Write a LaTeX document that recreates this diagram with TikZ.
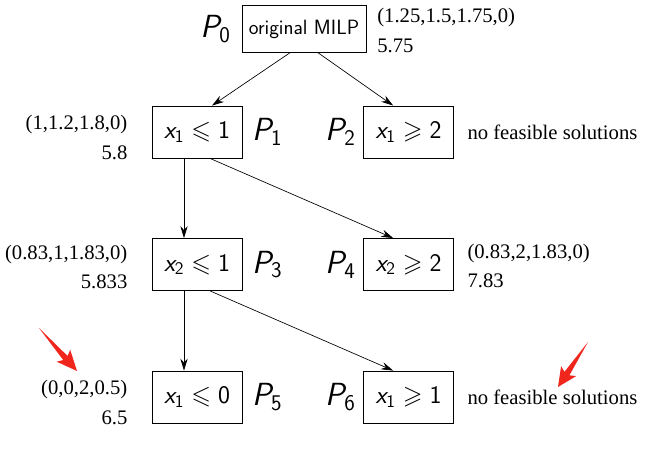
\RequirePackage{fix-cm}
\documentclass[tikz,border=0pt]{standalone}
\usepackage{amsmath}
\usepackage{amssymb}
\usepackage{fontspec}
\newfontfamily\annfont{Liberation Serif}
\usetikzlibrary{arrows.meta}
\usetikzlibrary{positioning}
\definecolor{markred}{RGB}{240,38,28}
\newcommand{\sv}[1]{\textsf{\itshape #1}}
\newcommand{\sn}[1]{\textsf{#1}}

\begin{document}
\begin{tikzpicture}[x=0.75pt, y=-0.75pt,
    box/.style={draw, line width=0.6pt, minimum width=67.5pt, minimum height=39pt, inner sep=2pt,
      font=\sffamily\fontsize{19}{22}\selectfont},
    plabel/.style={inner sep=0pt, font=\sffamily\fontsize{24}{28}\selectfont},
    note/.style={inner sep=0pt, font=\annfont\fontsize{15.5}{22}\selectfont},
    branch/.style={-{Stealth[length=9pt,width=5.5pt,inset=3pt]}, line width=0.5pt}]
  \useasboundingbox (0,0) rectangle (671,456);

  % the tree
  \node[box, minimum width=93pt, minimum height=35pt, font=\sffamily\fontsize{15.5}{18}\selectfont] (p0) at (304,29) {original MILP};
  \node[box] (p1) at (197,132) {$\sv{x}_{\sn{1}} \leqslant \sn{1}$};
  \node[box] (p2) at (408.5,132) {$\sv{x}_{\sn{1}} \geqslant \sn{2}$};
  \node[box] (p3) at (197,264.5) {$\sv{x}_{\sn{2}} \leqslant \sn{1}$};
  \node[box] (p4) at (408.5,264.5) {$\sv{x}_{\sn{2}} \geqslant \sn{2}$};
  \node[box] (p5) at (197,397) {$\sv{x}_{\sn{1}} \leqslant \sn{0}$};
  \node[box] (p6) at (408.5,397) {$\sv{x}_{\sn{1}} \geqslant \sn{1}$};

  \node[plabel, left=8pt of p0] (l0) {$\sv{P}_{\sn{0}}$};
  \node[plabel, right=7pt of p1] (l1) {$\sv{P}_{\sn{1}}$};
  \node[plabel, left=5.5pt of p2] (l2) {$\sv{P}_{\sn{2}}$};
  \node[plabel, right=7pt of p3] (l3) {$\sv{P}_{\sn{3}}$};
  \node[plabel, left=5.5pt of p4] (l4) {$\sv{P}_{\sn{4}}$};
  \node[plabel, right=7pt of p5] (l5) {$\sv{P}_{\sn{5}}$};
  \node[plabel, left=5.5pt of p6] (l6) {$\sv{P}_{\sn{6}}$};

  \draw[branch] ([xshift=-10.5pt]p0.south) -- ([xshift=11.25pt]p1.north);
  \draw[branch] ([xshift=10.5pt]p0.south) -- ([xshift=-11.5pt]p2.north);
  \draw[branch] ([xshift=-9.75pt]p1.south) -- ([xshift=-9.75pt]p3.north);
  \draw[branch] ([xshift=9.75pt]p1.south) -- ([xshift=-11.5pt]p4.north);
  \draw[branch] ([xshift=-9.75pt]p3.south) -- ([xshift=-9.75pt]p5.north);
  \draw[branch] ([xshift=9.75pt]p3.south) -- ([xshift=-11.5pt]p6.north);

  % solutions and objective values
  \node[note, align=left, right=8pt of p0, yshift=-1pt] (s0) {(1.25,1.5,1.75,0)\\5.75};
  \node[note, align=right, left=18pt of p1, yshift=-4pt] (s1) {(1,1.2,1.8,0)\\5.8};
  \node[note, right=10pt of p2] (s2) {no feasible solutions};
  \node[note, align=right, left=18pt of p3, yshift=-2pt] (s3) {(0.83,1,1.83,0)\\5.833};
  \node[note, align=left, right=10pt of p4, yshift=-1pt] (s4) {(0.83,2,1.83,0)\\7.83};
  \node[note, align=right, left=18pt of p5, yshift=-4pt] (s5) {(0,0,2,0.5)\\6.5};
  \node[note, right=10pt of p6] (s6) {no feasible solutions};

  % red markers
  \fill[markred] (39,328) -- (67.6,356) -- (70.2,349.8) -- (77,371) -- (56.7,361.7) -- (63.2,360) -- cycle;
  \fill[markred] (588,342) -- (569.4,375.3) -- (576.1,376.1) -- (558,387) -- (561.1,366.1) -- (564.4,371.9) -- cycle;
\end{tikzpicture}
\end{document}
